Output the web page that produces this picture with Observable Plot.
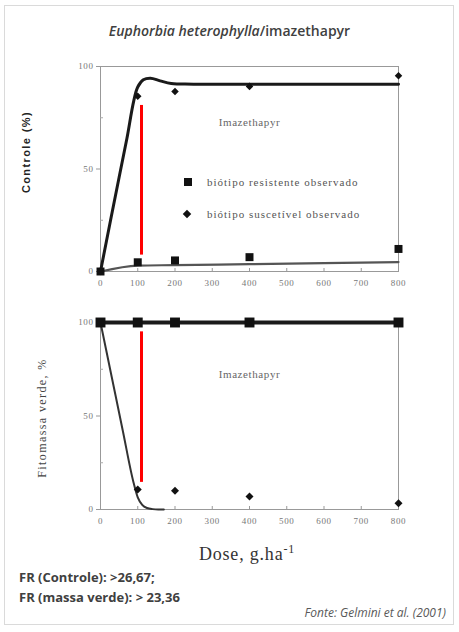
<!DOCTYPE html>
<html><head><meta charset="utf-8">
<script src="https://cdn.jsdelivr.net/npm/d3@7"></script>
<script src="https://cdn.jsdelivr.net/npm/@observablehq/plot@0.6"></script>
<style>
body{margin:0;background:#fff;}
#page{position:relative;width:459px;height:632px;overflow:hidden;font-family:"Open Sans",sans-serif;}
.frame{position:absolute;left:4px;top:5px;width:450px;height:620px;border:1px solid #dadada;box-sizing:border-box;}
.title{position:absolute;left:0;width:459px;top:21px;line-height:20px;text-align:center;font-size:14px;font-weight:600;color:#404040;}
.abs{position:absolute;white-space:nowrap;}
.ylab{position:absolute;white-space:nowrap;transform:translate(-50%,-50%) rotate(-90deg);}
.leg{position:absolute;white-space:nowrap;font-family:"Liberation Serif",serif;font-size:11px;letter-spacing:1px;color:#555;line-height:14px;}
#top,#bottom{position:absolute;left:0;}
#top{top:45px;} #bottom{top:300px;}
</style>
</head><body>
<div id="page">
  <div class="frame"></div>
  <div class="title"><i>Euphorbia heterophylla</i>/imazethapyr</div>
  <div id="top"></div>
  <div id="bottom"></div>
  <div class="ylab" style="left:26px;top:152px;font-family:'Liberation Sans',Arial,sans-serif;font-weight:bold;font-size:11px;letter-spacing:1.4px;color:#222;">Controle (%)</div>
  <div class="ylab" style="left:42px;top:418px;font-family:'Liberation Serif',serif;font-size:12px;letter-spacing:1.4px;color:#444;">Fitomassa verde, %</div>
  <div class="abs" style="left:183.5px;top:177.5px;width:8px;height:8px;background:#111;"></div>
  <div class="leg" style="left:207px;top:175px;">biótipo resistente observado</div>
  <div class="abs" style="left:184px;top:211px;width:6px;height:6px;background:#111;transform:rotate(45deg);"></div>
  <div class="leg" style="left:207px;top:207px;">biótipo suscetível observado</div>
  <div class="abs" style="left:0;width:494px;text-align:center;top:537px;font-family:'Liberation Serif',serif;font-size:18px;letter-spacing:0.8px;color:#333;line-height:24px;">Dose, g.ha<sup style="font-size:12px;">-1</sup></div>
  <div class="abs" style="left:19px;top:568px;font-size:13px;font-weight:bold;color:#404040;line-height:18px;">FR (Controle): &gt;26,67;</div>
  <div class="abs" style="left:19px;top:588px;font-size:13px;font-weight:bold;color:#404040;line-height:18px;">FR (massa verde): &gt; 23,36</div>
  <div class="abs" style="right:13px;top:604px;font-size:12px;font-style:italic;color:#595959;line-height:18px;">Fonte: Gelmini et al. (2001)</div>
</div>
<script>
// Observed data
const doses = [0, 100, 200, 400, 800];
const controleResistente = [0, 4.5, 5.4, 7, 11];
const controleSuscetivel = [0, 85.5, 87.8, 90.3, 95.5];
const fitomassaResistente = [100, 100, 100, 100, 100];
const fitomassaSuscetivel = [100, 10.7, 10, 7, 3.4];

// Fitted curves
const fitCtrlSDose = [0, 27, 50, 71, 89, 100, 115, 134, 160, 190, 250, 800];
const fitCtrlS = [0, 25, 46, 65, 83, 90, 93.5, 94.3, 93, 91.7, 91.4, 91.4];
const fitCtrlRDose = [0, 100, 200, 400, 800];
const fitCtrlR = [0, 2.9, 3.1, 3.6, 4.6];
const fitFitoRDose = [0, 800];
const fitFitoR = [100, 100];
const fitFitoSDose = [0, 30, 60, 88, 100, 112, 125, 140, 155, 170];
const fitFitoS = [100, 71, 42, 15, 6.5, 2.5, 0.8, 0.2, 0, 0];

// Annotations
const xTicks = [0, 100, 200, 300, 400, 500, 600, 700, 800];
const yTicks = [0, 50, 100];
const yMinorTicks = [25, 75];
const annotText = ["Imazethapyr"];
const annotDose = [400];
const annotTop = [72.6];
const annotBottom = [72];
const redDose = [110];
const redTop = [81, 8];
const redBottom = [95, 14.5];

const pts = (xs, ys) => xs.map((x, i) => ({x, y: ys[i]}));

function panel({height, marginTop, marginBottom, sq, dia, fits, red, annot, sqR, diaR}) {
  return Plot.plot({
    width: 459, height, marginLeft: 100, marginRight: 61, marginTop, marginBottom,
    x: {domain: [0, 800], label: null},
    y: {domain: [0, 100], label: null},
    style: {fontFamily: "'Liberation Serif', serif", fontSize: "9px", color: "#777", background: "transparent", letterSpacing: "0.6px", overflow: "visible"},
    marks: [
      Plot.frame({stroke: "#999", strokeWidth: 1}),
      Plot.axisX({ticks: xTicks, tickSize: -3, tickFormat: () => "", stroke: "#999"}),
      Plot.axisX({ticks: xTicks, tickSize: 0, tickPadding: 8, fill: "#777"}),
      Plot.axisY({ticks: yTicks, tickSize: 4, tickPadding: 3, stroke: "#999", fill: "#777"}),
      Plot.axisY({ticks: yMinorTicks, tickSize: -3, tickFormat: () => "", stroke: "#aaa"}),
      Plot.text(annotText.map((t, i) => ({t, x: annotDose[i], y: annot[i]})), {x: "x", y: "y", text: "t", fontSize: 11, fill: "#666", letterSpacing: "1.2px", fontFamily: "'Liberation Serif', serif"}),
      ...fits.map(f => Plot.line(pts(f.x, f.y), {x: "x", y: "y", curve: f.curve || "catmull-rom", stroke: f.stroke, strokeWidth: f.w})),
      Plot.dot(pts(doses, sq), {x: "x", y: "y", symbol: "square", r: sqR, fill: "#111", stroke: "none"}),
      Plot.dot(pts(doses, dia), {x: "x", y: "y", symbol: "diamond2", r: diaR, fill: "#111", stroke: "none"}),
      Plot.ruleX([{x: redDose[0], y1: red[0], y2: red[1]}], {x: "x", y1: "y1", y2: "y2", stroke: "#ff0000", strokeWidth: 3})
    ]
  });
}

document.getElementById("top").append(panel({
  height: 255, marginTop: 21, marginBottom: 29,
  sq: controleResistente, dia: controleSuscetivel,
  fits: [
    {x: fitCtrlRDose, y: fitCtrlR, stroke: "#555", w: 2.2, curve: "monotone-x"},
    {x: fitCtrlSDose, y: fitCtrlS, stroke: "#1a1a1a", w: 3}
  ],
  red: redTop, annot: annotTop, sqR: 4.5, diaR: 3.4
}));

document.getElementById("bottom").append(panel({
  height: 235, marginTop: 22, marginBottom: 26,
  sq: fitomassaResistente, dia: fitomassaSuscetivel,
  fits: [
    {x: fitFitoRDose, y: fitFitoR, stroke: "#1a1a1a", w: 4, curve: "linear"},
    {x: fitFitoSDose, y: fitFitoS, stroke: "#333", w: 2, curve: "monotone-x"}
  ],
  red: redBottom, annot: annotBottom, sqR: 5.6, diaR: 3.6
}));
</script>
</body></html>
